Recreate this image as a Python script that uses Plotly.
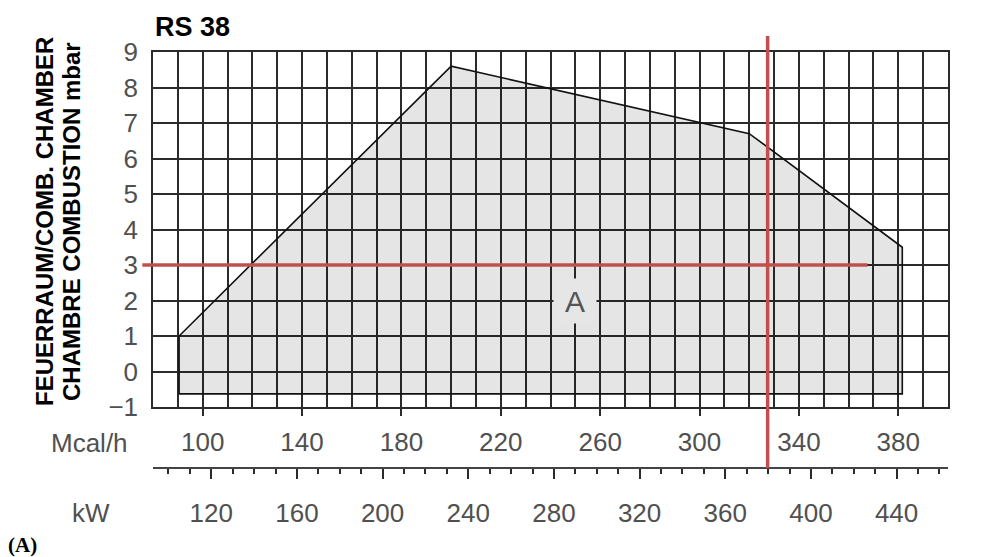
import plotly.graph_objects as go

# ---------------- data ----------------
TITLE = "RS 38"
Y_TITLE_1 = "FEUERRAUM/COMB. CHAMBER"
Y_TITLE_2 = "CHAMBRE COMBUSTION mbar"

# working field polygon (Mcal/h, mbar)
field_mcal = [90.5, 90.5, 200, 320, 381.6, 381.6, 90.5]
field_mbar = [-0.63, 1.0, 8.6, 6.7, 3.5, -0.63, -0.63]

# axis ranges / ticks
mcal_range = [80, 400]
mbar_range = [-1, 9]
mcal_ticks = [100, 140, 180, 220, 260, 300, 340, 380]
kw_per_mcal = 1.16
kw_major = [120, 160, 200, 240, 280, 320, 360, 400, 440]
kw_minor = list(range(100, 461, 10))

# red reference lines
red_h_mbar = 3.0
red_h_mcal = [75.7, 367.6]
red_v_mcal = 327.4
red_v_mbar = [9.45, -2.72]

# label "A"
label_a = ("A", 250, 2.0)

# ---------------- layout geometry ----------------
W, H = 988, 557
L, R, T = 153, 948, 52
B_PLOT, B_AXIS2 = 407, 468
PW = R - L
PH = B_AXIS2 - T
YDOM0 = (B_AXIS2 - B_PLOT) / PH


def px_x(px):
    return (px - L) / PW


def px_y(py):
    return (B_AXIS2 - py) / PH


def mbar_to_paper(v):
    return YDOM0 + (v - mbar_range[0]) / (mbar_range[1] - mbar_range[0]) * (1 - YDOM0)


def mcal_to_paper(v):
    return (v - mcal_range[0]) / (mcal_range[1] - mcal_range[0])


GRID = "#2b2b2b"
TICKFONT = dict(family="Liberation Sans", size=26, color="#505050")
RED = "#c0504d"

fig = go.Figure()

fig.add_trace(go.Scatter(
    x=field_mcal, y=field_mbar, mode="lines", fill="toself",
    fillcolor="rgba(0,0,0,0.10)", line=dict(color="#111111", width=1.6),
    hoverinfo="skip", showlegend=False, xaxis="x", yaxis="y"))

# invisible trace to activate the kW axis
fig.add_trace(go.Scatter(
    x=[mcal_range[0] * kw_per_mcal, mcal_range[1] * kw_per_mcal], y=[None, None],
    mode="markers", marker=dict(opacity=0), hoverinfo="skip", showlegend=False,
    xaxis="x2", yaxis="y"))

fig.update_layout(
    width=W, height=H,
    margin=dict(l=L, r=W - R, t=T, b=H - B_AXIS2, pad=0),
    paper_bgcolor="white", plot_bgcolor="white",
    xaxis=dict(
        range=mcal_range, anchor="y", tickmode="array", tickvals=mcal_ticks,
        ticks="outside", ticklen=7, tickwidth=1.5, tickcolor=GRID,
        tickfont=TICKFONT, ticklabelstandoff=4,
        showgrid=True, gridcolor=GRID, gridwidth=1.5,
        minor=dict(dtick=10, tick0=80, showgrid=True, gridcolor=GRID, gridwidth=1.5, ticks=""),
        showline=True, linecolor=GRID, linewidth=1.5, mirror=True, zeroline=False,
    ),
    xaxis2=dict(
        range=[mcal_range[0] * kw_per_mcal, mcal_range[1] * kw_per_mcal],
        overlaying="x", anchor="free", position=0, side="bottom",
        tickmode="array", tickvals=kw_major,
        ticks="outside", ticklen=10, tickwidth=1.5, tickcolor=GRID,
        minor=dict(tickvals=kw_minor, ticks="outside", ticklen=5, tickwidth=1.5, tickcolor=GRID, showgrid=False),
        tickfont=TICKFONT, ticklabelstandoff=12,
        showgrid=False, zeroline=False,
        showline=True, linecolor="#444444", linewidth=1.5,
    ),
    yaxis=dict(
        range=mbar_range, domain=[YDOM0, 1], dtick=1, tick0=-1,
        showgrid=True, gridcolor=GRID, gridwidth=1.5,
        tickfont=TICKFONT, ticks="", ticklabelstandoff=8,
        showline=True, linecolor=GRID, linewidth=1.5, mirror=True, zeroline=False,
    ),
)

# red reference lines
fig.add_shape(type="line", xref="paper", yref="y",
              x0=mcal_to_paper(red_h_mcal[0]), x1=mcal_to_paper(red_h_mcal[1]),
              y0=red_h_mbar, y1=red_h_mbar, line=dict(color=RED, width=3.5))
fig.add_shape(type="line", xref="x", yref="paper",
              x0=red_v_mcal, x1=red_v_mcal,
              y0=mbar_to_paper(red_v_mbar[1]), y1=mbar_to_paper(red_v_mbar[0]),
              line=dict(color=RED, width=3.5))

# texts
fig.add_annotation(text=label_a[0], x=label_a[1], y=label_a[2], xref="x", yref="y",
                   showarrow=False, font=dict(family="Liberation Sans", size=30, color="#555555"),
                   bgcolor="#e6e6e6", width=40, height=42)

fig.add_annotation(text="<b>" + TITLE + "</b>", x=px_x(153), y=px_y(27), xref="paper", yref="paper",
                   xanchor="left", yanchor="middle", showarrow=False,
                   font=dict(family="Liberation Sans", size=27, color="#000000"))

fig.add_annotation(text="<b>" + Y_TITLE_1 + "</b>", x=px_x(44), y=px_y(222), xref="paper", yref="paper",
                   textangle=-90, showarrow=False, xanchor="center", yanchor="middle",
                   font=dict(family="Liberation Sans", size=24, color="#000000"))
fig.add_annotation(text="<b>" + Y_TITLE_2 + "</b>", x=px_x(71), y=px_y(222), xref="paper", yref="paper",
                   textangle=-90, showarrow=False, xanchor="center", yanchor="middle",
                   font=dict(family="Liberation Sans", size=24, color="#000000"))

fig.add_annotation(text="Mcal/h", x=px_x(89), y=px_y(443), xref="paper", yref="paper",
                   showarrow=False, xanchor="center", yanchor="middle", font=TICKFONT)
fig.add_annotation(text="kW", x=px_x(91), y=px_y(513), xref="paper", yref="paper",
                   showarrow=False, xanchor="center", yanchor="middle", font=TICKFONT)

fig.add_annotation(text="<b>(A)</b>", x=px_x(6), y=px_y(545), xref="paper", yref="paper",
                   showarrow=False, xanchor="left", yanchor="middle",
                   font=dict(family="Liberation Serif", size=21, color="#000000"))

fig.write_html("out.html", config={"displayModeBar": False},
               post_script="document.body.style.margin='0px';")
